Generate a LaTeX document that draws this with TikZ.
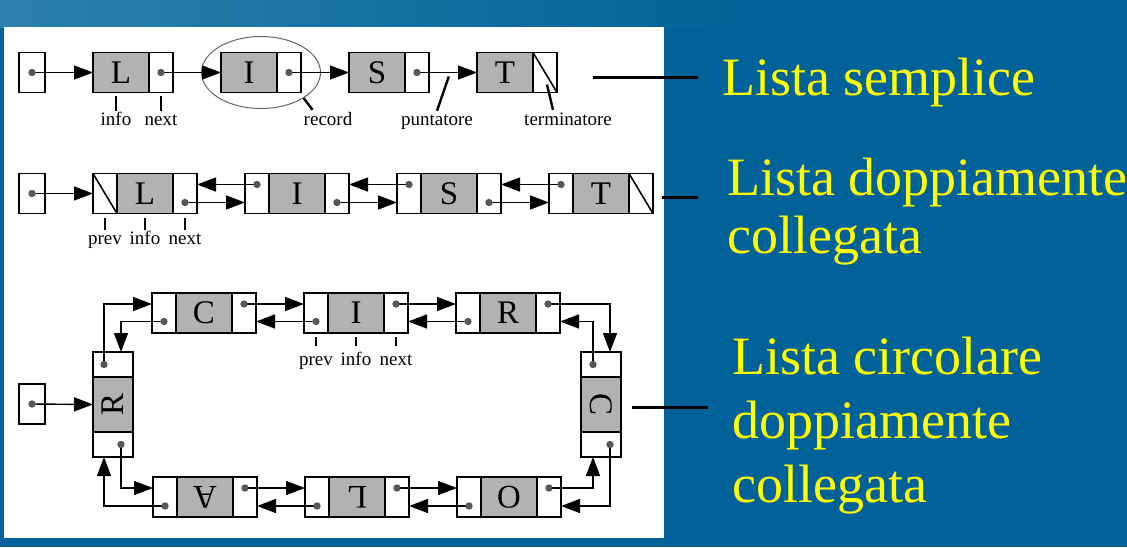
\documentclass[tikz,border=0pt]{standalone}
\usepackage{fontspec}
\usepackage{graphicx}
\setmainfont{Liberation Serif}
\usetikzlibrary{positioning,calc,shapes.geometric,arrows.meta}

\definecolor{slideblue}{RGB}{0,98,152}
\definecolor{slidelight}{RGB}{45,128,172}
\definecolor{cellgray}{RGB}{178,178,178}
\definecolor{dotgray}{RGB}{88,88,88}
\definecolor{slideyellow}{RGB}{255,255,0}

\tikzset{
  cell/.style={draw, line width=1.6pt, minimum height=40pt, inner sep=0pt, outer sep=0pt},
  ptrcell/.style={cell, fill=white, minimum width=24pt},
  infocell/.style={cell, fill=cellgray, minimum width=56pt, font=\fontsize{33}{33}\selectfont},
  headcell/.style={cell, fill=white, minimum width=26pt},
  vptrcell/.style={cell, fill=white, minimum width=40pt, minimum height=25pt},
  vinfocell/.style={cell, fill=cellgray, minimum width=40pt, minimum height=55pt, font=\fontsize{33}{33}\selectfont},
  cellline/.style={line width=1.6pt},
  link/.style={line width=1.4pt, -{Triangle[length=19pt,width=14pt]}},
  tick/.style={line width=1.2pt},
  lead/.style={line width=2.4pt},
  bar/.style={line width=3pt},
  lbl/.style={font=\fontsize{19}{19}\selectfont, inner sep=1pt, text height=13pt, text depth=4pt},
  bigtxt/.style={text=slideyellow, font=\fontsize{54}{58}\selectfont, anchor=base west, inner sep=0pt, align=left},
}

\begin{document}
\begin{tikzpicture}[x=1pt, y=-1pt]
    % Slide background
    \useasboundingbox (0,0) rectangle (1127,547);
    \fill[slideblue] (0,0) rectangle (1127,547);
    \shade[left color=slidelight, right color=slideblue] (0,0) rectangle (760,27);
    \fill[white] (4,27) rectangle (664,538);

    % Lista semplice
    \node[headcell] (h1) at (32,72.5) {};
    \node[infocell] (l1) at (121,72.5) {L};
    \node[ptrcell, right=0pt of l1] (l1n) {};
    \node[infocell, right=48pt of l1n] (i1) {I};
    \node[ptrcell, right=0pt of i1] (i1n) {};
    \node[infocell, right=48pt of i1n] (s1) {S};
    \node[ptrcell, right=0pt of s1] (s1n) {};
    \node[infocell, right=48pt of s1n] (t1) {T};
    \node[ptrcell, right=0pt of t1] (t1n) {};
    \draw[cellline] (t1n.north west) -- (t1n.south east);
    \node[draw=black!60, line width=1pt, ellipse, minimum width=119pt, minimum height=72pt] (rec) at ($(i1.west)!0.5!(i1n.east)$) {};

    \draw[link] (h1.center) -- (l1.west);
    \draw[link] (l1n.center) -- (i1.west);
    \draw[link] (i1n.center) -- (s1.west);
    \draw[link] (s1n.center) -- (t1.west) coordinate[pos=0.53] (pt1);

    % labels of the simple list
    \node[lbl, below=18.5pt of l1, xshift=-5pt] (info1) {info};
    \node[lbl, below=18.5pt of l1n] (next1) {next};
    \draw[tick, shorten >=3.5pt] (info1.north) -- (info1.north |- l1.south);
    \draw[tick, shorten >=3.5pt] (next1.north) -- (next1.north |- l1n.south);
    \node[lbl] (rec1) at (328,120.5) {record};
    \node[lbl] (punt1) at (437,120.5) {puntatore};
    \node[lbl] (term1) at (568,120.5) {terminatore};
    \draw[lead] ($(rec1.north west)+(10,-1)$) -- (rec.-31);
    \draw[lead] (punt1.north) -- ($(pt1)+(0,4)$);
    \draw[lead] ($(term1.north)+(-15,-1)$) -- ($(t1n.center)+(2,12)$);

    % Lista doppiamente collegata
    \node[headcell] (h2) at (32,193.5) {};
    \node[ptrcell] (l2p) at (105,193.5) {};
    \node[infocell, right=0pt of l2p] (l2) {L};
    \node[ptrcell, right=0pt of l2] (l2n) {};
    \node[ptrcell, right=48pt of l2n] (i2p) {};
    \node[infocell, right=0pt of i2p] (i2) {I};
    \node[ptrcell, right=0pt of i2] (i2n) {};
    \node[ptrcell, right=48pt of i2n] (s2p) {};
    \node[infocell, right=0pt of s2p] (s2) {S};
    \node[ptrcell, right=0pt of s2] (s2n) {};
    \node[ptrcell, right=48pt of s2n] (t2p) {};
    \node[infocell, right=0pt of t2p] (t2) {T};
    \node[ptrcell, right=0pt of t2] (t2n) {};
    \draw[cellline] (l2p.north west) -- (l2p.south east);
    \draw[cellline] (t2n.north west) -- (t2n.south east);

    \foreach \c in {l2n,i2n,s2n} \coordinate (d\c) at ($(\c.center)+(0,9)$);
    \foreach \c in {i2p,s2p,t2p} \coordinate (d\c) at ($(\c.center)+(0,-9)$);

    \draw[link] (h2.center) -- (l2p.west);
    \draw[link] (dl2n) -- (dl2n -| i2p.west);
    \draw[link] (di2p) -- (di2p -| l2n.east);
    \draw[link] (di2n) -- (di2n -| s2p.west);
    \draw[link] (ds2p) -- (ds2p -| i2n.east);
    \draw[link] (ds2n) -- (ds2n -| t2p.west);
    \draw[link] (dt2p) -- (dt2p -| s2n.east);

    \node[lbl, below=16.5pt of l2p] (prev2) {prev};
    \node[lbl, below=16.5pt of l2] (info2) {info};
    \node[lbl, below=16.5pt of l2n] (next2) {next};
    \draw[tick, shorten >=4.5pt] (prev2.north) -- (prev2.north |- l2p.south);
    \draw[tick, shorten >=4.5pt] (info2.north) -- (info2.north |- l2.south);
    \draw[tick, shorten >=4.5pt] (next2.north) -- (next2.north |- l2n.south);

    % Lista circolare doppiamente collegata
    \node[headcell] (h3) at (32,404) {};
    \node[vinfocell] (kr1) at (113,404.5) {\rotatebox{90}{R}};
    \node[vptrcell, above=0pt of kr1] (kr1n) {};
    \node[vptrcell, below=0pt of kr1] (kr1p) {};

    \node[ptrcell] (kc1p) at (164,313) {};
    \node[infocell, right=0pt of kc1p] (kc1) {C};
    \node[ptrcell, right=0pt of kc1] (kc1n) {};
    \node[ptrcell, right=48pt of kc1n] (kip) {};
    \node[infocell, right=0pt of kip] (ki) {I};
    \node[ptrcell, right=0pt of ki] (kin) {};
    \node[ptrcell, right=48pt of kin] (kr2p) {};
    \node[infocell, right=0pt of kr2p] (kr2) {R};
    \node[ptrcell, right=0pt of kr2] (kr2n) {};

    \node[vinfocell] (kc2) at (601,404.5) {\rotatebox{-90}{C}};
    \node[vptrcell, above=0pt of kc2] (kc2p) {};
    \node[vptrcell, below=0pt of kc2] (kc2n) {};

    \node[ptrcell] (kan) at (165,497) {};
    \node[infocell, right=0pt of kan] (ka) {\rotatebox{180}{A}};
    \node[ptrcell, right=0pt of ka] (kap) {};
    \node[ptrcell, right=48pt of kap] (kln) {};
    \node[infocell, right=0pt of kln] (kl) {\rotatebox{180}{L}};
    \node[ptrcell, right=0pt of kl] (klp) {};
    \node[ptrcell, right=48pt of klp] (kon) {};
    \node[infocell, right=0pt of kon] (ko) {\rotatebox{180}{O}};
    \node[ptrcell, right=0pt of ko] (kop) {};

    \coordinate (dkr1n) at ($(kr1n.center)+(-9,0)$);
    \coordinate (dkr1p) at ($(kr1p.center)+(8,0)$);
    \coordinate (dkc2p) at ($(kc2p.center)+(-8,0)$);
    \coordinate (dkc2n) at ($(kc2n.center)+(9,0)$);
    \foreach \c in {kc1n,kin,kr2n} \coordinate (d\c) at ($(\c.center)+(0,-9)$);
    \foreach \c in {kc1p,kip,kr2p} \coordinate (d\c) at ($(\c.center)+(0,8.5)$);
    \foreach \c in {kon,kln,kan} \coordinate (d\c) at ($(\c.center)+(0,9)$);
    \foreach \c in {kop,klp,kap} \coordinate (d\c) at ($(\c.center)+(0,-9)$);

    \draw[link] (h3.center) -- (kr1.west);
    % next pointers (clockwise)
    \draw[link] (dkr1n) |- (kc1p.west |- dkc1n);
    \draw[link] (dkc1n) -- (dkc1n -| kip.west);
    \draw[link] (dkin) -- (dkin -| kr2p.west);
    \draw[link] (dkr2n) -| (dkc2n |- kc2p.north);
    \draw[link] (dkc2n) |- (kop.east |- dkon);
    \draw[link] (dkon) -- (dkon -| klp.east);
    \draw[link] (dkln) -- (dkln -| kap.east);
    \draw[link] (dkan) -| (dkr1n |- kr1p.south);
    % prev pointers (anticlockwise)
    \draw[link] (dkc1p) -| (dkr1p |- kr1n.north);
    \draw[link] (dkip) -- (dkip -| kc1n.east);
    \draw[link] (dkr2p) -- (dkr2p -| kin.east);
    \draw[link] (dkc2p) |- (kr2n.east |- dkr2p);
    \draw[link] (dkop) -| (dkc2p |- kc2n.south);
    \draw[link] (dklp) -- (dklp -| kon.west);
    \draw[link] (dkap) -- (dkap -| kln.west);
    \draw[link] (dkr1p) |- (kan.west |- dkap);

    \node[lbl, below=18pt of kip] (prev3) {prev};
    \node[lbl, below=18pt of ki] (info3) {info};
    \node[lbl, below=18pt of kin] (next3) {next};
    \draw[tick, shorten <=5pt, shorten >=4pt] (prev3.north) -- (prev3.north |- kip.south);
    \draw[tick, shorten <=5pt, shorten >=4pt] (info3.north) -- (info3.north |- ki.south);
    \draw[tick, shorten <=5pt, shorten >=4pt] (next3.north) -- (next3.north |- kin.south);

    % pointer dots
    \foreach \d in {h1.center, l1n.center, i1n.center, s1n.center,
                    h2.center, dl2n, di2p, di2n, ds2p, ds2n, dt2p,
                    h3.center, dkr1n, dkr1p, dkc1n, dkc1p, dkin, dkip, dkr2n, dkr2p,
                    dkc2p, dkc2n, dkon, dkop, dkln, dklp, dkan, dkap}
        \fill[dotgray] (\d) circle (3.7);

    % Slide captions
    \node[bigtxt] (txt1) at (722,95) {Lista semplice};
    \node[bigtxt] (txt2) at (727,253) {Lista doppiamente\\collegata};
    \node[bigtxt, font=\fontsize{54}{64}\selectfont] (txt3) at (732,502) {Lista circolare\\doppiamente\\collegata};
    \coordinate (bar1) at (593,77);
    \coordinate (bar2) at (662,197);
    \coordinate (bar3) at (632,407);
    \draw[bar, shorten >=24pt] (bar1) -- (bar1 -| txt1.west);
    \draw[bar, shorten >=29pt] (bar2) -- (bar2 -| txt2.west);
    \draw[bar, shorten >=24pt] (bar3) -- (bar3 -| txt3.west);
\end{tikzpicture}
\end{document}
